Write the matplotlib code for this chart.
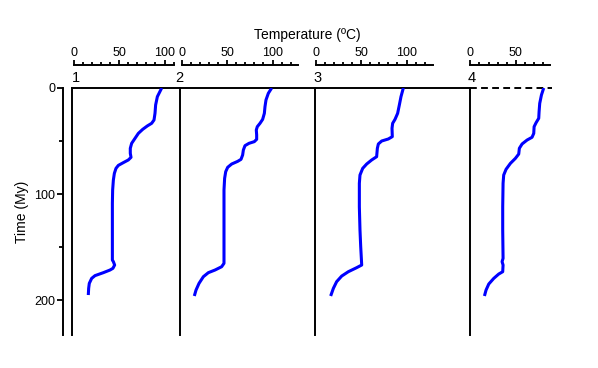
import matplotlib
matplotlib.use("Agg")
import matplotlib.pyplot as plt
from matplotlib.ticker import MultipleLocator

plt.rcParams['font.family'] = ['Liberation Sans', 'DejaVu Sans']

# ---- data (temperature in ºC vs time in My) ----
p1_time = [0, 8.2, 16.0, 23.9, 30.2, 33.3, 35.8, 39.0, 42.8, 47.5, 52.2, 56.9, 61.6, 65.4, 67.9, 70.4,
           73.0, 75.8, 80.5, 86.8, 96.2, 108.8, 124.5, 143.4, 162.3, 163.8, 167.0, 170.1, 171.7, 174.2,
           177.0, 179.6, 184.3, 189.0, 195.3]
p1_temp = [96.9, 92.1, 90.2, 89.5, 88.4, 85.8, 81.0, 75.9, 71.1, 67.4, 63.7, 62.2, 62.2, 63.0, 60.0, 54.5,
           49.0, 46.4, 44.6, 43.5, 42.7, 42.4, 42.4, 42.4, 42.4, 43.5, 44.9, 43.0, 39.8, 32.4,
           23.2, 19.5, 16.9, 16.2, 15.8]

p2_time = [0, 5.0, 11.3, 17.6, 23.9, 29.6, 33.3, 36.5, 39.6, 44.3, 48.4, 50.6, 52.2, 54.4, 58.5, 63.2,
           67.3, 69.2, 71.7, 74.8, 78.9, 85.2, 96.2, 118.2, 143.4, 165.4, 168.6, 171.7, 174.2, 178.0,
           184.3, 190.6, 196.2]
p2_temp = [99.1, 95.4, 92.8, 91.7, 91.0, 89.1, 86.2, 83.2, 82.1, 82.5, 82.5, 79.9, 74.0, 69.6, 67.8, 67.0,
           65.2, 61.5, 54.9, 50.5, 48.3, 47.1, 46.4, 46.4, 46.4, 46.4, 43.8, 36.5, 29.1, 23.6,
           18.8, 15.5, 13.6]

p3_time = [0, 8.2, 16.0, 23.9, 29.6, 33.3, 38.0, 45.9, 48.1, 50.0, 52.8, 56.9, 64.8, 67.9, 71.7, 75.8,
           82.1, 89.9, 112.0, 134.0, 149.7, 167.0, 169.5, 173.3, 177.4, 182.7, 189.0, 196.2]
p3_temp = [96.5, 93.9, 92.1, 90.2, 87.3, 84.7, 84.0, 84.3, 79.9, 72.6, 68.9, 67.8, 67.0, 61.5, 56.0, 51.6,
           48.6, 47.9, 47.9, 48.6, 49.4, 50.5, 44.9, 35.7, 28.4, 22.8, 19.2, 16.2]

p4_time = [0, 6.6, 14.5, 22.3, 28.6, 32.7, 36.5, 42.8, 46.5, 49.1, 52.8, 56.9, 62.3, 66.4, 71.1, 76.7,
           82.1, 89.9, 112.0, 134.0, 160.7, 163.8, 167.0, 173.3, 175.5, 179.6, 184.9, 190.6, 196.2]
p4_temp = [81.0, 78.5, 76.6, 75.9, 75.5, 72.6, 70.4, 70.0, 68.1, 62.6, 57.1, 54.1, 53.4, 49.7, 44.2, 39.4,
           36.8, 36.1, 35.7, 35.7, 36.1, 35.0, 36.1, 35.7, 31.3, 25.8, 20.3, 17.3, 15.5]

panel_labels = ["1", "2", "3", "4"]
temp_axis_max = [110, 128, 129, 88]
temp_major = [0, 50, 100]
y_ticks = [0, 100, 200]
time_max = 233

series = [(p1_temp, p1_time), (p2_temp, p2_time), (p3_temp, p3_time), (p4_temp, p4_time)]

# ---- layout (pixels) ----
W, H = 598, 368
fig = plt.figure(figsize=(W / 100, H / 100), dpi=100)

def rect(x0, y0, x1, y1):
    return [x0 / W, 1 - y1 / H, (x1 - x0) / W, (y1 - y0) / H]

top_px, bot_px = 88, 335
scale = 0.905  # px per ºC
panel_edges = [(72, 180, 74), (180, 315, 182), (315, 470, 316), (470, 552, 470.4)]
label_dx = [-0.5, -1, -2, -2.5]   # px shifts of panel numbers
PX = 0.72  # points per pixel at dpi 100

# Time axis
ax0 = fig.add_axes(rect(63, top_px, 66, bot_px))
ax0.set_ylim(time_max, 0)
ax0.set_xticks([])
for s in ['top', 'right', 'bottom']:
    ax0.spines[s].set_visible(False)
ax0.spines['left'].set_linewidth(1.4)
ax0.yaxis.set_major_locator(plt.FixedLocator(y_ticks))
ax0.yaxis.set_minor_locator(MultipleLocator(50))
ax0.tick_params(axis='y', which='major', length=4.5, width=1.3, labelsize=9, pad=1.0)
ax0.tick_params(axis='y', which='minor', length=3, width=1.3)
ax0.set_ylabel("Time (My)", fontsize=10, labelpad=4)
ax0.patch.set_alpha(0)

for i, ((L, R, x0), (temp, time)) in enumerate(zip(panel_edges, series)):
    ax = fig.add_axes(rect(L, top_px, R, bot_px))
    ax.set_xlim((L - x0) / scale, (R - x0) / scale)
    ax.set_ylim(time_max, 0)
    ax.patch.set_alpha(0)
    ax.plot(temp, time, color='#0000ff', lw=2.2, solid_joinstyle='round',
            solid_capstyle='butt', zorder=3)
    ax.axhline(0, color='black', lw=1.4, ls='-' if i < 3 else (0, (3.5, 2.2)),
               clip_on=False, zorder=2)
    for s in ['right', 'bottom']:
        ax.spines[s].set_visible(False)
    ax.spines['left'].set_linewidth(1.4)
    ax.spines['top'].set_position(('outward', 23 * PX))
    ax.spines['top'].set_bounds(0, temp_axis_max[i])
    ax.spines['top'].set_linewidth(1.4)
    ax.set_yticks([])
    ax.xaxis.set_ticks_position('top')
    ax.xaxis.set_major_locator(plt.FixedLocator([t for t in temp_major if t <= temp_axis_max[i]]))
    ax.xaxis.set_minor_locator(plt.FixedLocator(list(range(0, int(temp_axis_max[i]) + 1, 10))))
    ax.tick_params(axis='x', which='major', length=5 * PX, width=1.3, labelsize=9, pad=0.8)
    ax.tick_params(axis='x', which='minor', length=3 * PX, width=1.3)
    ax.annotate(panel_labels[i], xy=(0, 1), xycoords='axes fraction',
                xytext=(label_dx[i] * PX, 6 * PX), textcoords='offset points',
                fontsize=10.5, ha='left' if i != 1 else 'center', va='baseline')

fig.text(307 / W, 1 - 35 / H, "Temperature (ºC)", ha='center', va='center', fontsize=10)

fig.savefig("out.png", dpi=100)
